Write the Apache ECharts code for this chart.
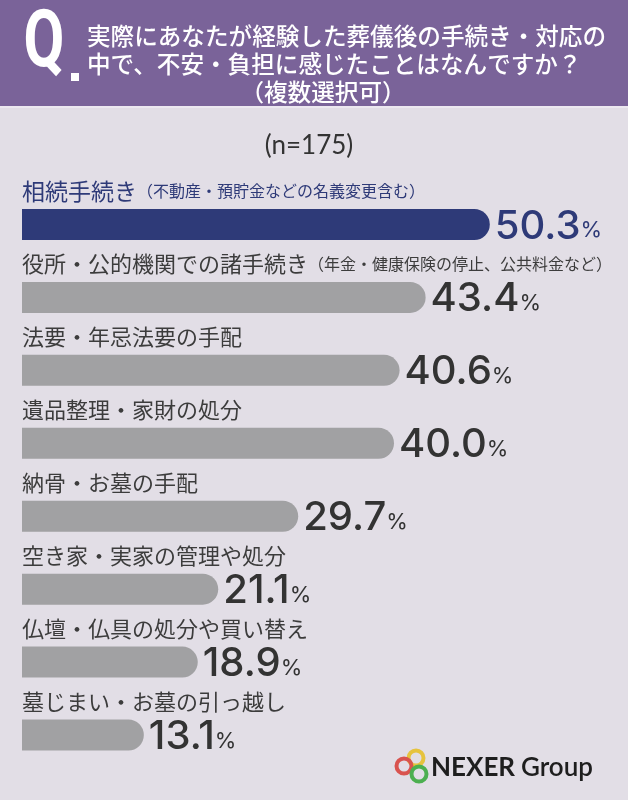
<!DOCTYPE html>
<html>
<head>
<meta charset="utf-8">
<script src="https://cdn.jsdelivr.net/npm/echarts@6/dist/echarts.min.js"></script>
<style>
  html, body { margin: 0; padding: 0; background: #e2dee6; }
  #chart { width: 628px; height: 800px; }
</style>
</head>
<body>
<div id="chart"></div>
<script>
const titleLines = [
  "実際にあなたが経験した葬儀後の手続き・対応の",
  "中で、不安・負担に感じたことはなんですか？",
  "（複数選択可）",
];
const sampleSize = "(n=175)";

const categories = [
  "相続手続き",
  "役所・公的機関での諸手続き",
  "法要・年忌法要の手配",
  "遺品整理・家財の処分",
  "納骨・お墓の手配",
  "空き家・実家の管理や処分",
  "仏壇・仏具の処分や買い替え",
  "墓じまい・お墓の引っ越し",
];
const notes = [
  "（不動産・預貯金などの名義変更含む）",
  "（年金・健康保険の停止、公共料金など）",
  "", "", "", "", "", "",
];
const values = [50.3, 43.4, 40.6, 40.0, 29.7, 21.1, 18.9, 13.1];

const NAVY = "#2e3a78";
const GREY = "#a1a1a3";
const JP = '"Noto Sans CJK JP", "Noto Sans", sans-serif';
const NUM = 'Inter, "Noto Sans", sans-serif';

const chart = echarts.init(document.getElementById("chart"));

const barData = values.map(function (v, i) {
  return {
    value: v,
    itemStyle: { color: i === 0 ? NAVY : GREY },
    label: { color: i === 0 ? NAVY : "#333333" },
  };
});

const nameData = values.map(function (v, i) {
  return { value: v, name: categories[i] };
});

const option = {
  backgroundColor: "#e2dee6",
  animation: false,
  grid: { left: 22, right: 48, top: 188, bottom: 28.5 },
  xAxis: { type: "value", min: 0, max: 60, show: false },
  yAxis: {
    type: "category",
    data: categories,
    inverse: true,
    show: false,
  },
  series: [
    {
      type: "bar",
      data: barData,
      barWidth: 31,
      itemStyle: { borderRadius: [0, 16, 16, 0] },
      label: {
        show: true,
        position: "right",
        distance: 5,
        offset: [0, 2],
        formatter: function (p) {
          return "{n|" + p.value.toFixed(1) + "}{p|%}";
        },
        rich: {
          n: { fontFamily: NUM, fontWeight: 500, fontSize: 40, lineHeight: 40 },
          p: { fontFamily: NUM, fontWeight: 400, fontSize: 22, lineHeight: 22, verticalAlign: "bottom", padding: [0, 0, 5, 0] },
        },
      },
      z: 2,
    },
    {
      type: "bar",
      data: nameData,
      barWidth: 31,
      barGap: "-100%",
      silent: true,
      itemStyle: { color: "transparent" },
      label: {
        show: true,
        position: [0, -5],
        align: "left",
        verticalAlign: "bottom",
        formatter: function (p) {
          const k = p.dataIndex === 0 ? "1" : "";
          let s = "{m" + k + "|" + categories[p.dataIndex] + "}";
          if (notes[p.dataIndex]) s += "{s" + k + "|" + notes[p.dataIndex] + "}";
          return s;
        },
        rich: {
          m1: { fontFamily: JP, fontSize: 23, color: NAVY, lineHeight: 26 },
          s1: { fontFamily: JP, fontSize: 16, color: NAVY, lineHeight: 26 },
          m: { fontFamily: JP, fontSize: 22, color: "#3c3c3c", lineHeight: 26 },
          s: { fontFamily: JP, fontSize: 16, color: "#3c3c3c", lineHeight: 26 },
        },
      },
      z: 3,
    },
  ],
  graphic: [
    { type: "rect", shape: { x: 0, y: 0, width: 628, height: 106 }, style: { fill: "#7a6399" } },
    { type: "rect", shape: { x: 0, y: 106, width: 628, height: 2 }, style: { fill: "#ece8f0" } },
    {
      type: "text",
      x: 44, y: 46,
      scaleX: 0.74,
      style: {
        text: "Q",
        x: 0, y: 0,
        align: "center", verticalAlign: "middle",
        font: 'bold 80px Roboto, sans-serif',
        fill: "#ffffff",
      },
    },
    { type: "rect", shape: { x: 71, y: 73, width: 8, height: 8 }, style: { fill: "#ffffff" } },
    {
      type: "text",
      style: { text: titleLines[0], x: 87, y: 36, align: "left", verticalAlign: "middle", font: "500 23.6px " + JP, fill: "#ffffff" },
    },
    {
      type: "text",
      style: { text: titleLines[1], x: 87, y: 64, align: "left", verticalAlign: "middle", font: "500 23.6px " + JP, fill: "#ffffff" },
    },
    {
      type: "text",
      style: { text: titleLines[2], x: 323, y: 92, align: "center", verticalAlign: "middle", font: "500 23.6px " + JP, fill: "#ffffff" },
    },
    {
      type: "text",
      style: { text: sampleSize, x: 309, y: 146, align: "center", verticalAlign: "middle", font: "26px Lato, sans-serif", fill: "#333333" },
    },
    { type: "circle", shape: { cx: 416, cy: 758, r: 7.5 }, style: { fill: "none", stroke: "#e6c33e", lineWidth: 4 } },
    { type: "circle", shape: { cx: 404, cy: 766, r: 7.5 }, style: { fill: "none", stroke: "#d9534f", lineWidth: 4 } },
    { type: "circle", shape: { cx: 419, cy: 774, r: 7.5 }, style: { fill: "none", stroke: "#4caf50", lineWidth: 4 } },
    {
      type: "text",
      style: { text: "NEXER", x: 431, y: 768, align: "left", verticalAlign: "middle", font: 'bold 26px Lato, sans-serif', fill: "#1e1e1e" },
    },
    {
      type: "text",
      style: { text: "Group", x: 521, y: 768, align: "left", verticalAlign: "middle", font: '600 26px Lato, sans-serif', fill: "#1e1e1e" },
    },
  ],
};

chart.setOption(option);
</script>
</body>
</html>
